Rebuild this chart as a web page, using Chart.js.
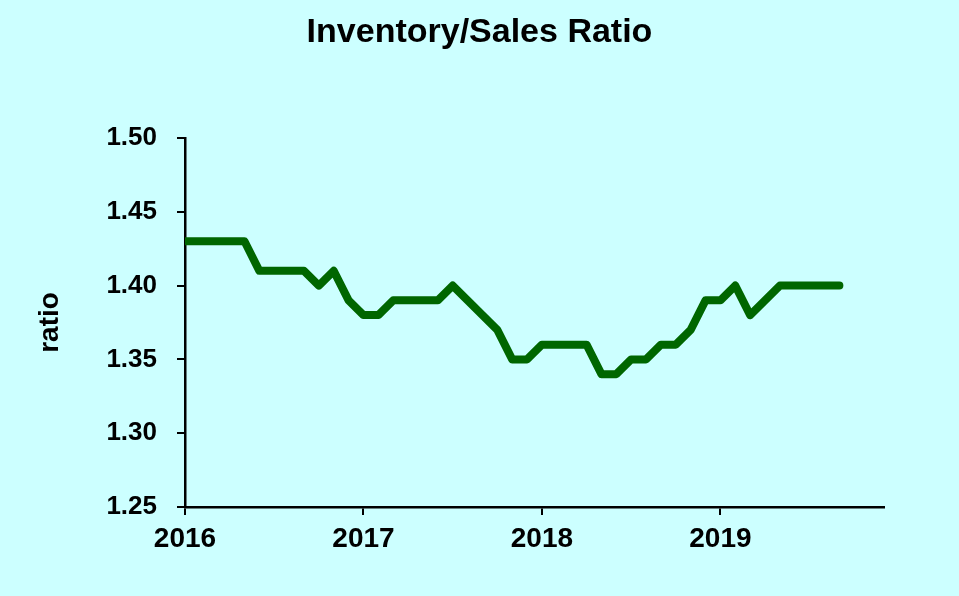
<!DOCTYPE html>
<html>
<head>
<meta charset="utf-8">
<script src="https://cdn.jsdelivr.net/npm/chart.js@4.4.1/dist/chart.umd.min.js"></script>
<style>
  html, body { margin: 0; padding: 0; background: #CCFFFF; }
  #wrap { width: 959px; height: 596px; }
</style>
</head>
<body>
<div id="wrap"><canvas id="c" width="959" height="596"></canvas></div>
<script>
// Monthly inventory/sales ratio, Jan 2016 .. Sep 2019
const startYear = 2016;
const ratio = [
  1.43, 1.43, 1.43, 1.43, 1.43, 1.41, 1.41, 1.41, 1.41, 1.40, 1.41, 1.39,
  1.38, 1.38, 1.39, 1.39, 1.39, 1.39, 1.40, 1.39, 1.38, 1.37, 1.35, 1.35,
  1.36, 1.36, 1.36, 1.36, 1.34, 1.34, 1.35, 1.35, 1.36, 1.36, 1.37, 1.39,
  1.39, 1.40, 1.38, 1.39, 1.40, 1.40, 1.40, 1.40, 1.40
];
const yearTicks = [2016, 2017, 2018, 2019];
const yTicks = [1.25, 1.30, 1.35, 1.40, 1.45, 1.50];
const titleText = 'Inventory/Sales Ratio';
const yTitle = 'ratio';

const points = ratio.map((v, i) => ({ x: i, y: v }));
const FONT = 'Arial, "Liberation Sans", Helvetica, sans-serif';

const bgPlugin = {
  id: 'bg',
  beforeDraw(chart) {
    const ctx = chart.ctx;
    ctx.save();
    ctx.fillStyle = '#CCFFFF';
    ctx.fillRect(0, 0, chart.width, chart.height);
    ctx.restore();
  }
};

new Chart(document.getElementById('c'), {
  type: 'line',
  data: {
    datasets: [{
      data: points,
      borderColor: '#006600',
      borderWidth: 8,
      pointRadius: 0,
      tension: 0,
      fill: false,
      borderCapStyle: 'round',
      borderJoinStyle: 'round'
    }]
  },
  options: {
    responsive: false,
    animation: false,
    devicePixelRatio: 1,
    layout: { padding: 0 },
    plugins: {
      legend: { display: false },
      tooltip: { enabled: false },
      title: {
        display: true,
        text: titleText,
        color: '#000',
        font: { family: FONT, size: 34, weight: 'bold', lineHeight: 1.2 },
        padding: { top: 12.5, bottom: 84.7 }
      }
    },
    scales: {
      x: {
        type: 'linear',
        min: 0,
        max: 47,
        afterBuildTicks(scale) {
          scale.ticks = yearTicks.map(y => ({ value: (y - startYear) * 12 }));
        },
        afterFit(scale) { scale.height = 596 - 507; },
        ticks: {
          includeBounds: false,
          autoSkip: false,
          maxRotation: 0,
          color: '#000',
          padding: 7,
          font: { family: FONT, size: 28, weight: 'bold', lineHeight: 1.2 },
          callback: (v) => String(startYear + v / 12)
        },
        grid: { drawOnChartArea: false, drawTicks: true, tickLength: 8, color: '#000', lineWidth: 2 },
        border: { display: true, color: '#000', width: 2.5 }
      },
      y: {
        min: 1.25,
        max: 1.50,
        afterBuildTicks(scale) {
          scale.ticks = yTicks.map(v => ({ value: v }));
        },
        afterFit(scale) { scale.width = 185; },
        ticks: {
          color: '#000',
          padding: 20,
          font: { family: FONT, size: 26, weight: 'bold', lineHeight: 1.2 },
          callback: (v) => Number(v).toFixed(2)
        },
        grid: { drawOnChartArea: false, drawTicks: true, tickLength: 8, color: '#000', lineWidth: 2 },
        border: { display: true, color: '#000', width: 2.5 },
        title: {
          display: true,
          text: yTitle,
          color: '#000',
          font: { family: FONT, size: 28, weight: 'bold', lineHeight: 1.2 },
          padding: { top: 33, bottom: 0 }
        }
      },
      spacer: {
        type: 'linear',
        position: 'right',
        display: true,
        afterFit(scale) { scale.width = 959 - 884; },
        ticks: { display: false },
        grid: { display: false, drawTicks: false },
        border: { display: false }
      }
    }
  },
  plugins: [bgPlugin]
});
</script>
</body>
</html>
